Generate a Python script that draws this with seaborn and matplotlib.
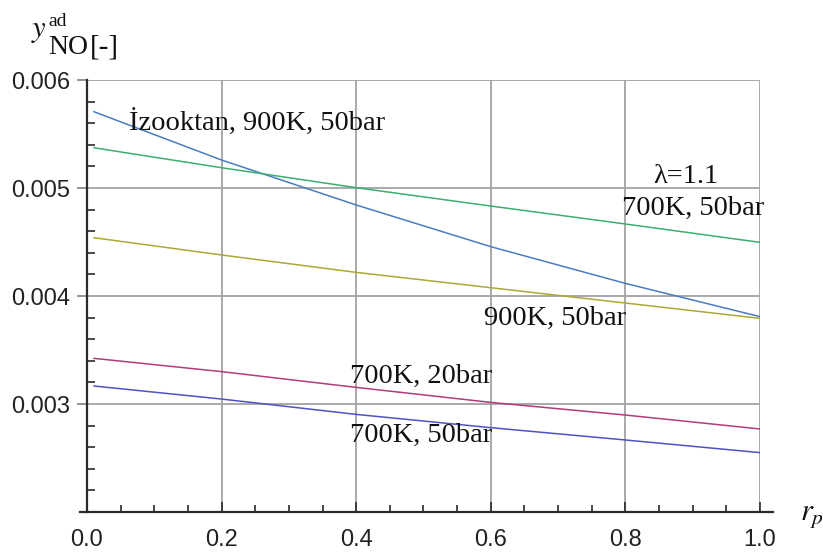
import numpy as np
import pandas as pd
import matplotlib
matplotlib.use("Agg")
import matplotlib.pyplot as plt
import seaborn as sns
from matplotlib.ticker import MultipleLocator, FormatStrFormatter, FixedLocator

# residual gas fraction r_p and adiabatic NO mole fraction for each case
r_p = [0.01, 0.2, 0.4, 0.6, 0.8, 1.0]
izooktan_900K_50bar = [0.005707, 0.005259, 0.004843, 0.004457, 0.004117, 0.003809]
lambda11_700K_50bar = [0.005373, 0.005188, 0.005003, 0.004833, 0.004667, 0.004497]
case_900K_50bar = [0.004540, 0.004380, 0.004219, 0.004077, 0.003935, 0.003793]
case_700K_20bar = [0.003423, 0.003300, 0.003154, 0.003015, 0.002898, 0.002769]
case_700K_50bar = [0.003167, 0.003046, 0.002904, 0.002781, 0.002667, 0.002550]

series_names = ["izooktan", "lambda11", "900K50", "700K20", "700K50"]
series_values = [izooktan_900K_50bar, lambda11_700K_50bar, case_900K_50bar,
                 case_700K_20bar, case_700K_50bar]
series_colors = ["#4a7cc0", "#3caf6e", "#aaaa33", "#b43c78", "#5050c8"]

df = pd.DataFrame({
    "r_p": np.tile(r_p, len(series_names)),
    "y": np.concatenate(series_values),
    "case": np.repeat(series_names, len(r_p)),
})

sns.set_theme(style="white")
plt.rcParams["mathtext.fontset"] = "stix"
plt.rcParams["font.family"] = ["Liberation Sans", "DejaVu Sans"]

fig = plt.figure(figsize=(8.23, 5.56), dpi=100)
ax = fig.add_axes([0.1057, 0.0791, 0.8177, 0.777])

sns.lineplot(data=df, x="r_p", y="y", hue="case", hue_order=series_names,
             palette=series_colors, linewidth=1.1, legend=False, ax=ax)

ax.set_xlim(0, 1.0)
ax.set_ylim(0.002, 0.006)
ax.set_xlabel("")
ax.set_ylabel("")

ax.xaxis.set_major_locator(MultipleLocator(0.2))
ax.xaxis.set_minor_locator(MultipleLocator(0.05))
ax.yaxis.set_major_locator(FixedLocator([0.003, 0.004, 0.005, 0.006]))
ax.yaxis.set_minor_locator(MultipleLocator(0.0002))
ax.xaxis.set_major_formatter(FormatStrFormatter("%.1f"))
ax.yaxis.set_major_formatter(FormatStrFormatter("%.3f"))

ax.grid(True, which="major", color="#a3a3a3", linewidth=1.3)
ax.set_axisbelow(True)

for side in ("top", "right"):
    ax.spines[side].set_visible(False)
for side in ("left", "bottom"):
    ax.spines[side].set_color("#2a2a2a")
    ax.spines[side].set_linewidth(1.6)
ax.spines["bottom"].set_bounds(-0.0104, 1.019)
ax.spines["left"].set_bounds(0.002, 0.006)

ax.tick_params(axis="x", which="major", direction="in", length=7, width=1.2,
               color="#2a2a2a", pad=12, labelsize=17, labelcolor="#222222")
ax.tick_params(axis="x", which="minor", direction="in", length=5, width=1.2,
               color="#2a2a2a")
ax.tick_params(axis="y", which="major", direction="out", length=7, width=1.3,
               color="#8a8a8a", pad=5, labelsize=17, labelcolor="#222222")
ax.tick_params(axis="y", which="minor", direction="in", length=6, width=1.2,
               color="#2a2a2a")
ax.tick_params(bottom=True, left=True, which="both")

serif = ["Liberation Serif", "DejaVu Serif"]
lab = dict(family=serif, fontsize=20.5, color="#111111")
ax.text(0.063, 0.00560, "İzooktan, 900K, 50bar", ha="left", va="center", **lab)
ax.text(0.89, 0.005105, "λ=1.1", ha="center", va="center", **lab)
ax.text(0.90, 0.004812, "700K, 50bar", ha="center", va="center", **lab)
ax.text(0.695, 0.003793, "900K, 50bar", ha="center", va="center", **lab)
ax.text(0.497, 0.003253, "700K, 20bar", ha="center", va="center", **lab)
ax.text(0.497, 0.002713, "700K, 50bar", ha="center", va="center", **lab)

# y-axis title: y with superscript "ad" and a full-size lowered "NO", then [-]
W, H = 823.0, 556.0
hdr = dict(color="#111111", ha="left", va="baseline")
fig.text(31 / W, 1 - 37 / H, r"$y$", fontsize=22, **hdr)
fig.text(48 / W, 1 - 26 / H, "ad", family=serif, fontsize=14, **hdr)
fig.text(48 / W, 1 - 54 / H, "NO", family=serif, fontsize=20, **hdr)
fig.text(90 / W, 1 - 54 / H, "[-]", family=serif, fontsize=21, **hdr)

fig.text(800 / W, 1 - 520 / H, r"$r_p$", fontsize=22, ha="left",
         va="baseline", color="#111111")

fig.savefig("out.png", dpi=100)
